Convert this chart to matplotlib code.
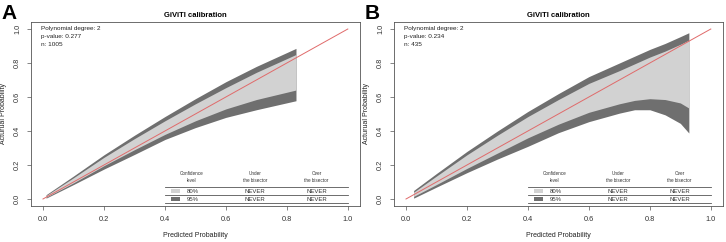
import matplotlib
matplotlib.use("Agg")
import matplotlib.pyplot as plt
from matplotlib.patches import Rectangle

plt.rcParams['font.family'] = ['Liberation Sans', 'DejaVu Sans']

# ---------------- data ----------------
ticks = [0.0, 0.2, 0.4, 0.6, 0.8, 1.0]
tick_labels = ["0.0", "0.2", "0.4", "0.6", "0.8", "1.0"]

# Panel A
a_x    = [0.01, 0.10, 0.20, 0.30, 0.40, 0.50, 0.60, 0.70, 0.83]
a_up95 = [0.025, 0.135, 0.26, 0.375, 0.485, 0.59, 0.69, 0.78, 0.886]
a_up80 = [0.020, 0.125, 0.245, 0.355, 0.46, 0.56, 0.655, 0.745, 0.85]
a_lo80 = [0.010, 0.095, 0.196, 0.29, 0.38, 0.46, 0.53, 0.585, 0.641]
a_lo95 = [0.005, 0.085, 0.176, 0.262, 0.35, 0.42, 0.48, 0.525, 0.578]
a_stats = ["Polynomial degree: 2", "p-value: 0.277", "n: 1005"]

# Panel B
b_x    = [0.025, 0.10, 0.20, 0.30, 0.40, 0.50, 0.60, 0.70, 0.75, 0.80, 0.85, 0.90, 0.928]
b_up95 = [0.05, 0.15, 0.28, 0.40, 0.515, 0.62, 0.72, 0.80, 0.84, 0.88, 0.915, 0.955, 0.978]
b_up80 = [0.04, 0.135, 0.26, 0.375, 0.485, 0.585, 0.68, 0.755, 0.795, 0.835, 0.87, 0.91, 0.935]
b_lo80 = [0.015, 0.085, 0.18, 0.27, 0.36, 0.44, 0.51, 0.56, 0.58, 0.59, 0.585, 0.565, 0.535]
b_lo95 = [0.005, 0.07, 0.155, 0.235, 0.31, 0.39, 0.455, 0.505, 0.525, 0.525, 0.495, 0.445, 0.388]
b_stats = ["Polynomial degree: 2", "p-value: 0.234", "n: 435"]

legend_levels = ["80%", "95%"]
legend_under = ["NEVER", "NEVER"]
legend_over = ["NEVER", "NEVER"]

DARK = "#6f6f6f"
LIGHT = "#d2d2d2"
RED = "#e06a6a"
BOX = "#555555"

W, H = 726, 242
fig = plt.figure(figsize=(W / 100, H / 100), dpi=100)


def panel(left_px, label, x, up95, up80, lo80, lo95, stats):
    ax = fig.add_axes([left_px / W, 36.2 / H, 329.2 / W, 183.6 / H])
    ax.set_xlim(-0.04, 1.04)
    ax.set_ylim(-0.04, 1.04)
    ax.fill_between(x, lo95, up95, color=DARK, lw=0)
    ax.fill_between(x, lo80, up80, color=LIGHT, lw=0)
    ax.plot([0, 1], [0, 1], color=RED, lw=0.7)

    ax.set_xticks(ticks)
    ax.set_xticklabels(tick_labels)
    ax.set_yticks(ticks)
    ax.set_yticklabels(tick_labels, rotation=90, va="center")
    ax.tick_params(direction="out", length=3, width=0.5, color=BOX,
                   labelsize=5.3, pad=4, labelcolor="#333333")
    for s in ax.spines.values():
        s.set_color(BOX)
        s.set_linewidth(0.6)
    ax.set_xlabel("Predicted Probability", fontsize=5, labelpad=7, color="#222222")
    ax.set_ylabel("Acturual Probability", fontsize=5, labelpad=5, color="#222222")
    ax.set_title("GiViTI calibration", fontsize=5.5, fontweight="bold", pad=4)

    for i, t in enumerate(stats):
        ax.text(-0.008, 1.02 - i * 0.047, t, fontsize=4.6, va="top", ha="left",
                color="#222222")

    # legend table
    for yy in [0.072, 0.0235, -0.025]:
        ax.plot([0.4, 1.0], [yy, yy], color=BOX, lw=0.6)
    ax.text(0.487, 0.128, "Confidence\nlevel", fontsize=3.3, ha="center",
            va="center", linespacing=1.4, color="#333333")
    ax.text(0.695, 0.128, "Under\nthe bisector", fontsize=3.3, ha="center",
            va="center", linespacing=1.4, color="#333333")
    ax.text(0.897, 0.128, "Over\nthe bisector", fontsize=3.3, ha="center",
            va="center", linespacing=1.4, color="#333333")
    rows_y = [0.047, -0.002]
    colors = [LIGHT, DARK]
    for j in range(2):
        ax.add_patch(Rectangle((0.42, rows_y[j] - 0.012), 0.03, 0.024,
                               color=colors[j], lw=0))
        ax.text(0.47, rows_y[j], legend_levels[j], fontsize=4.3, va="center",
                ha="left", color="#333333")
        ax.text(0.695, rows_y[j], legend_under[j], fontsize=4.3, va="center",
                ha="center", color="#333333")
        ax.text(0.897, rows_y[j], legend_over[j], fontsize=4.3, va="center",
                ha="center", color="#333333")

    fig.text((left_px - 29) / W, 1 - 4 / H, label, fontsize=15,
             fontweight="bold", va="top", ha="left")
    return ax


panel(30.8, "A", a_x, a_up95, a_up80, a_lo80, a_lo95, a_stats)
panel(393.8, "B", b_x, b_up95, b_up80, b_lo80, b_lo95, b_stats)

fig.savefig("out.png", dpi=100)
